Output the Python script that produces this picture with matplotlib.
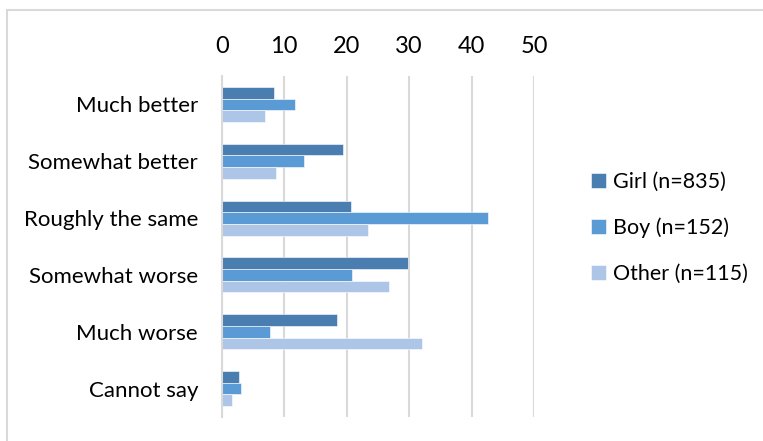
import matplotlib.pyplot as plt
import numpy as np
from matplotlib.patches import Rectangle

# data (percent)
categories = ["Much better", "Somewhat better", "Roughly the same",
              "Somewhat worse", "Much worse", "Cannot say"]
series_names = ["Girl (n=835)", "Boy (n=152)", "Other (n=115)"]
girl = [8.4, 19.5, 20.7, 29.9, 18.4, 2.7]
boy = [11.8, 13.1, 42.7, 20.9, 7.8, 3.1]
other = [6.9, 8.7, 23.4, 26.8, 32.0, 1.6]
ticks = [0, 10, 20, 30, 40, 50]

colors = ["#4A7DB0", "#5B9BD5", "#ADC5E6"]

plt.rcParams['font.family'] = ['Lato', 'DejaVu Sans']

fig = plt.figure(figsize=(7.63, 4.41), dpi=100)
ax = fig.add_axes([221.7 / 763, 1 - 417 / 441, (534 - 221.7) / 763, (417 - 76) / 441])

# outer chart frame (only top and left visible in reference)
fig.patches.append(Rectangle((7 / 763, -0.1), 1.2, 1 - 10 / 441 + 0.1,
                             transform=fig.transFigure, fill=False,
                             edgecolor="#D9D9D9", linewidth=1.5))

y = np.arange(len(categories))
h = 0.205
for i, (vals, c, name) in enumerate(zip([girl, boy, other], colors, series_names)):
    ax.barh(y + (i - 1) * h, vals, height=h, color=c, label=name,
            edgecolor="white", linewidth=0.4)

ax.set_ylim(len(categories) - 0.5, -0.5)
ax.set_xlim(0, 50)
ax.set_xticks(ticks)
ax.set_yticks(y)
ax.set_yticklabels(categories)
ax.xaxis.tick_top()
ax.tick_params(axis='x', length=0, pad=14, labelsize=17, colors="black")
ax.tick_params(axis='y', length=0, pad=17, labelsize=16, colors="black")
ax.grid(axis='x', color="#D9D9D9", linewidth=1.5)
ax.set_axisbelow(True)
for s in ["top", "right", "bottom"]:
    ax.spines[s].set_visible(False)
ax.spines["left"].set_color("#D9D9D9")
ax.spines["left"].set_linewidth(1.5)

fig.legend(loc="center left", bbox_to_anchor=(572 / 763, 1 - 228 / 441),
           frameon=False, fontsize=15.5, handlelength=0.7, handleheight=0.7,
           handletextpad=0.3, labelspacing=1.2)

plt.savefig("out.png", dpi=100)
plt.close()
